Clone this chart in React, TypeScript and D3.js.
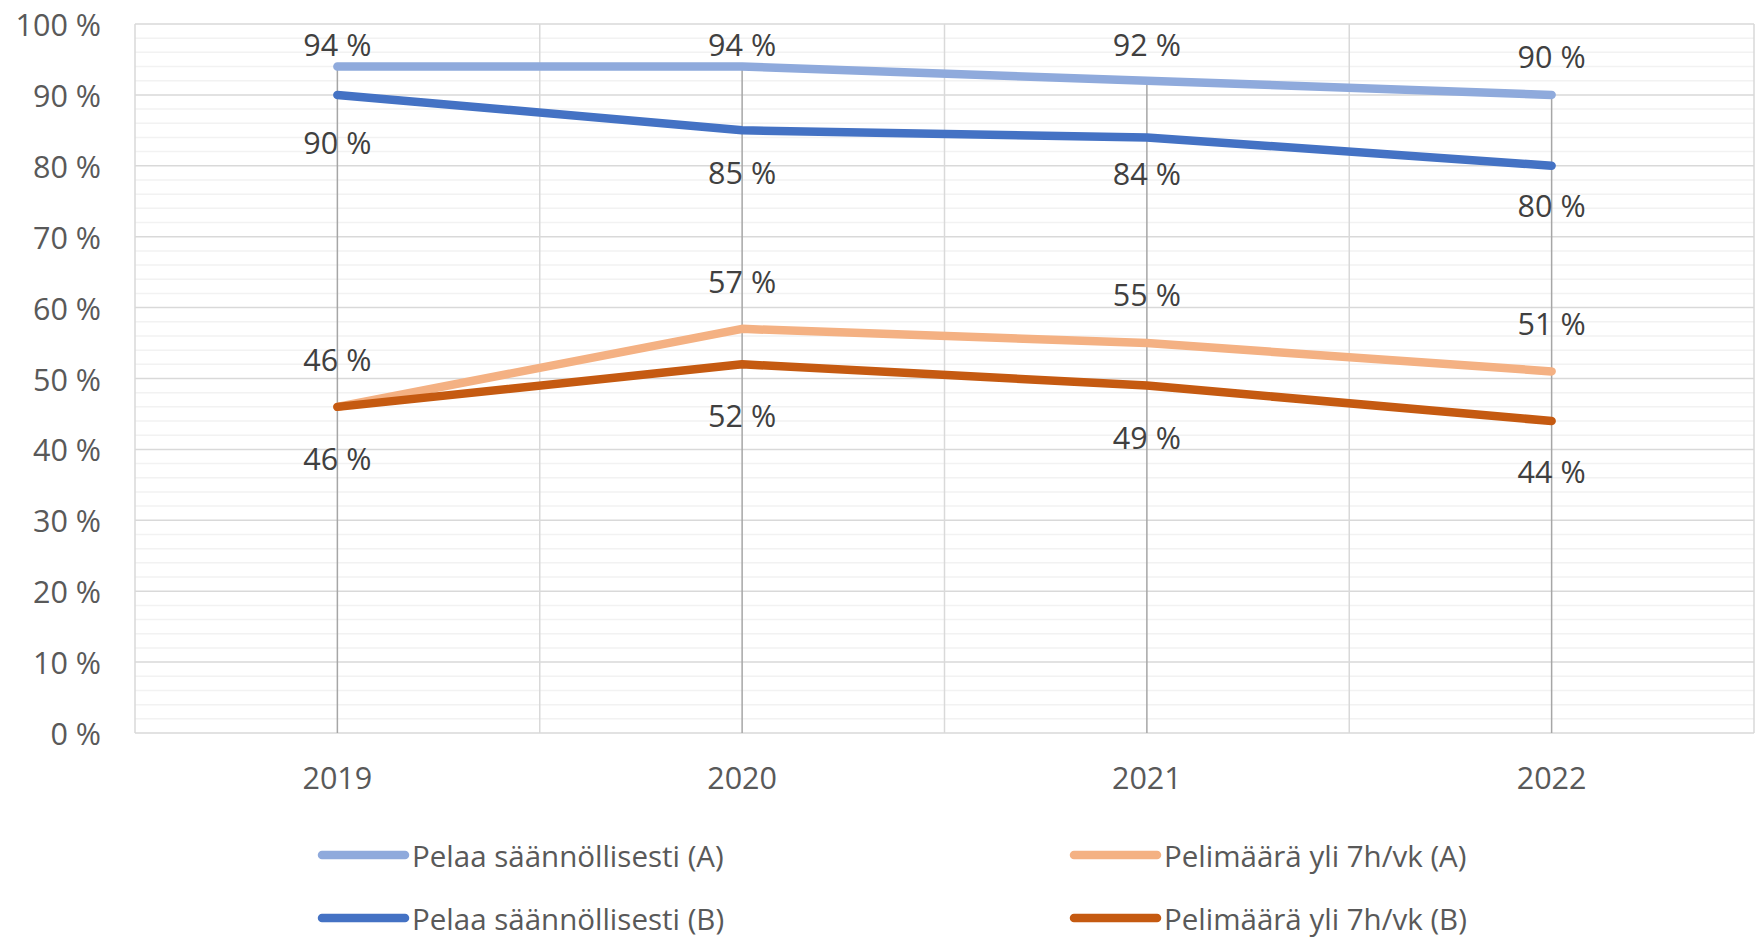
import React from 'react';
import * as d3 from 'd3';

const years = ['2019', '2020', '2021', '2022'];
const regularA = [94, 94, 92, 90];
const regularB = [90, 85, 84, 80];
const over7hA = [46, 57, 55, 51];
const over7hB = [46, 52, 49, 44];
const yTicks = [0, 10, 20, 30, 40, 50, 60, 70, 80, 90, 100];

// label offsets in px from the point (hand-placed in the original)
const offsRegularA = [-23, -22.5, -37, -39];
const offsRegularB = [47.5, 41.7, 36, 39];
const offsOver7hA = [-48, -48, -48.7, -48.7];
const offsOver7hB = [51, 50.7, 51, 49.7];

const series = [
  { name: 'Pelaa säännöllisesti (A)', values: regularA, color: '#8faadc', offs: offsRegularA },
  { name: 'Pelaa säännöllisesti (B)', values: regularB, color: '#4472c4', offs: offsRegularB },
  { name: 'Pelimäärä yli 7h/vk (A)', values: over7hA, color: '#f4b183', offs: offsOver7hA },
  { name: 'Pelimäärä yli 7h/vk (B)', values: over7hB, color: '#c55a11', offs: offsOver7hB },
];

const width = 1756;
const height = 937;
const margin = { top: 24, right: 2, bottom: 204, left: 135 };
const font = '"Open Sans", sans-serif';
const fs = 30.5;

const x = d3
  .scaleBand()
  .domain(years)
  .range([margin.left, width - margin.right]);

const y = d3
  .scaleLinear()
  .domain([0, 100])
  .range([height - margin.bottom, margin.top]);

const cx = (yr: string) => (x(yr) as number) + x.bandwidth() / 2;

const line = d3
  .line<number>()
  .x((d, i) => cx(years[i]))
  .y(d => y(d));

const minorTicks = d3.range(0, 101, 2).filter(v => v % 10 !== 0);

const legend = [
  { s: series[0], x: 322, y: 855 },
  { s: series[2], x: 1074, y: 855 },
  { s: series[1], x: 322, y: 918 },
  { s: series[3], x: 1074, y: 918 },
];

export default function App() {
  const [x0, x1] = x.range();
  const [y0, y1] = y.range();
  return (
    <svg
      width={width}
      height={height}
      style={{ position: 'absolute', left: 0, top: 0, background: '#fff' }}
      fontFamily={font}
    >
      {minorTicks.map(v => (
        <line key={'m' + v} x1={x0} x2={x1} y1={y(v)} y2={y(v)} stroke="#f2f2f2" strokeWidth={1.5} />
      ))}
      {yTicks.map(v => (
        <line key={'g' + v} x1={x0} x2={x1} y1={y(v)} y2={y(v)} stroke="#d9d9d9" strokeWidth={1.5} />
      ))}
      {years.map(yr => (
        <line key={'b' + yr} x1={x(yr)} x2={x(yr)} y1={y0} y2={y1} stroke="#d9d9d9" strokeWidth={1.5} />
      ))}
      <line x1={x1} x2={x1} y1={y0} y2={y1} stroke="#d9d9d9" strokeWidth={1.5} />

      {/* drop lines */}
      {years.map((yr, i) => (
        <line
          key={'d' + yr}
          x1={cx(yr)}
          x2={cx(yr)}
          y1={y(d3.max(series, s => s.values[i]) as number)}
          y2={y0}
          stroke="#a6a6a6"
          strokeWidth={1.5}
        />
      ))}

      {yTicks.map(v => (
        <text
          key={'t' + v}
          x={101}
          y={y(v)}
          textAnchor="end"
          dominantBaseline="central"
          fontSize={fs}
          fill="#595959"
        >
          {v} %
        </text>
      ))}
      {years.map(yr => (
        <text
          key={'x' + yr}
          x={cx(yr)}
          y={777}
          textAnchor="middle"
          dominantBaseline="central"
          fontSize={fs}
          fill="#595959"
        >
          {yr}
        </text>
      ))}

      {series.map(s => (
        <path
          key={s.name}
          d={line(s.values) as string}
          fill="none"
          stroke={s.color}
          strokeWidth={8.5}
          strokeLinecap="round"
          strokeLinejoin="round"
        />
      ))}

      {series.map(s =>
        s.values.map((v, i) => (
          <text
            key={s.name + i}
            x={cx(years[i])}
            y={y(v) + s.offs[i]}
            textAnchor="middle"
            dominantBaseline="central"
            fontSize={fs}
            fill="#404040"
          >
            {v} %
          </text>
        ))
      )}

      {legend.map(l => (
        <g key={l.s.name}>
          <line
            x1={l.x}
            x2={l.x + 83}
            y1={l.y}
            y2={l.y}
            stroke={l.s.color}
            strokeWidth={8.5}
            strokeLinecap="round"
          />
          <text x={l.x + 90} y={l.y} dominantBaseline="central" fontSize={29.5} fill="#595959">
            {l.s.name}
          </text>
        </g>
      ))}
    </svg>
  );
}
